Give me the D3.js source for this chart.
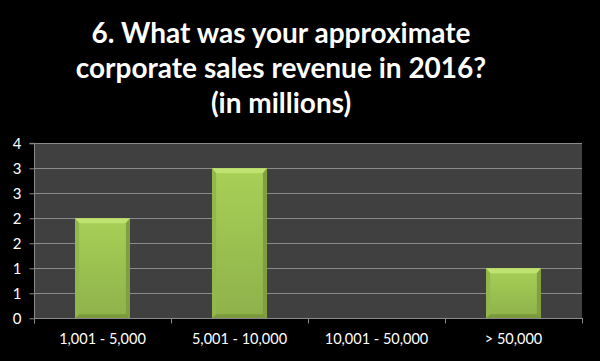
<!DOCTYPE html>
<html>
<head>
<meta charset="utf-8">
<script src="https://cdn.jsdelivr.net/npm/d3@7"></script>
<style>
  html, body { margin: 0; padding: 0; background: #000; }
  svg { display: block; }
</style>
</head>
<body>
<svg id="chart" width="600" height="361"></svg>
<script>
// ---- data ----
const titleLines = ["6. What was your approximate", "corporate sales revenue in 2016?", "(in millions)"];
const categories = ["1,001 - 5,000", "5,001 - 10,000", "10,001 - 50,000", "> 50,000"];
const values = [2, 3, 0, 1];
const yTickValues = [0, 0.5, 1, 1.5, 2, 2.5, 3, 3.5];
const yTickLabels = ["0", "1", "1", "2", "2", "3", "3", "4"];

// ---- layout ----
const W = 600, H = 361;
const plot = { left: 34, right: 582, top: 143.3, bottom: 318.3 };
const svg = d3.select("#chart");

svg.append("rect").attr("width", W).attr("height", H).attr("fill", "#000");

// title
const title = svg.append("text")
  .attr("text-anchor", "middle")
  .attr("fill", "#fff")
  .attr("font-family", "Lato, 'Open Sans', sans-serif")
  .attr("font-weight", "bold")
  .attr("font-size", 28);
titleLines.forEach((t, i) => {
  title.append("tspan").attr("x", 281).attr("y", 42.5 + i * 35.3).text(t);
});

// scales
const x = d3.scaleBand().domain(categories).range([plot.left, plot.right])
  .paddingInner(0.6).paddingOuter(0.3);
const y = d3.scaleLinear().domain([0, 3.5]).range([plot.bottom, plot.top]);

// plot background
svg.append("rect")
  .attr("x", plot.left).attr("y", plot.top)
  .attr("width", plot.right - plot.left).attr("height", plot.bottom - plot.top)
  .attr("fill", "#404040");

// gridlines
svg.append("g").selectAll("line").data(yTickValues.filter(v => v > 0)).join("line")
  .attr("x1", plot.left).attr("x2", plot.right)
  .attr("y1", d => Math.round(y(d)) + 0.5).attr("y2", d => Math.round(y(d)) + 0.5)
  .attr("stroke", "#8a8a8a").attr("stroke-width", 1);

// defs for bar gradients
const defs = svg.append("defs");
const gv = defs.append("linearGradient").attr("id", "barFace").attr("x1", 0).attr("y1", 0).attr("x2", 0).attr("y2", 1);
gv.append("stop").attr("offset", "0%").attr("stop-color", "#a7d056");
gv.append("stop").attr("offset", "100%").attr("stop-color", "#8fb14b");

// bars
const bev = 4;
const bars = svg.append("g").selectAll("g").data(values.map((v, i) => ({ c: categories[i], v })).filter(d => d.v > 0)).join("g");
bars.each(function(d) {
  const g = d3.select(this);
  const x0 = x(d.c), x1 = x(d.c) + x.bandwidth();
  const y0 = y(d.v), y1 = y(0);
  g.append("rect").attr("x", x0).attr("y", y0).attr("width", x1 - x0).attr("height", y1 - y0)
    .attr("fill", "url(#barFace)");
  // top bevel
  g.append("polygon").attr("points", [[x0, y0], [x1, y0], [x1 - bev, y0 + bev + 1], [x0 + bev, y0 + bev + 1]].join(" "))
    .attr("fill", "#c0e270");
  // left bevel
  g.append("polygon").attr("points", [[x0, y0], [x0 + bev, y0 + bev + 1], [x0 + bev, y1 - bev], [x0, y1]].join(" "))
    .attr("fill", "#93b74c");
  // right bevel
  g.append("polygon").attr("points", [[x1, y0], [x1 - bev, y0 + bev + 1], [x1 - bev, y1 - bev], [x1, y1]].join(" "))
    .attr("fill", "#809f40");
  // bottom bevel
  g.append("polygon").attr("points", [[x0, y1], [x0 + bev, y1 - bev], [x1 - bev, y1 - bev], [x1, y1]].join(" "))
    .attr("fill", "#7a983c");
});

// y axis
const yAxis = d3.axisLeft(y).tickValues(yTickValues).tickSize(5).tickPadding(8)
  .tickFormat((d, i) => yTickLabels[i]);
const gy = svg.append("g").attr("transform", `translate(${plot.left + 0.5},0)`).call(yAxis);
gy.select(".domain").attr("stroke", "#8a8a8a").attr("d", `M-5,${y(3.5)}H0V${plot.bottom + 5}`);
gy.selectAll(".tick line").attr("stroke", "#8a8a8a");
gy.selectAll(".tick text").attr("fill", "#fff").attr("font-size", 15)
  .attr("font-family", "Lato, 'Open Sans', sans-serif");

// x axis line
const gx = svg.append("g");
gx.append("line").attr("x1", plot.left).attr("x2", plot.right)
  .attr("y1", Math.round(y(0)) + 0.5).attr("y2", Math.round(y(0)) + 0.5)
  .attr("stroke", "#8a8a8a");
const boundaries = categories.map(c => x(c) - x.step() * x.paddingOuter()).concat([plot.right]);
gx.selectAll("line.tk").data(boundaries).join("line").attr("class", "tk")
  .attr("x1", d => Math.round(d) + 0.5).attr("x2", d => Math.round(d) + 0.5)
  .attr("y1", Math.round(y(0))).attr("y2", Math.round(y(0)) + 5.5)
  .attr("stroke", "#8a8a8a");
gx.selectAll("text").data(categories).join("text")
  .attr("x", d => x(d) + x.bandwidth() / 2).attr("y", 344)
  .attr("text-anchor", "middle").attr("fill", "#fff")
  .attr("font-size", 14.5).attr("font-family", "Lato, 'Open Sans', sans-serif")
  .text(d => d);
</script>
</body>
</html>
